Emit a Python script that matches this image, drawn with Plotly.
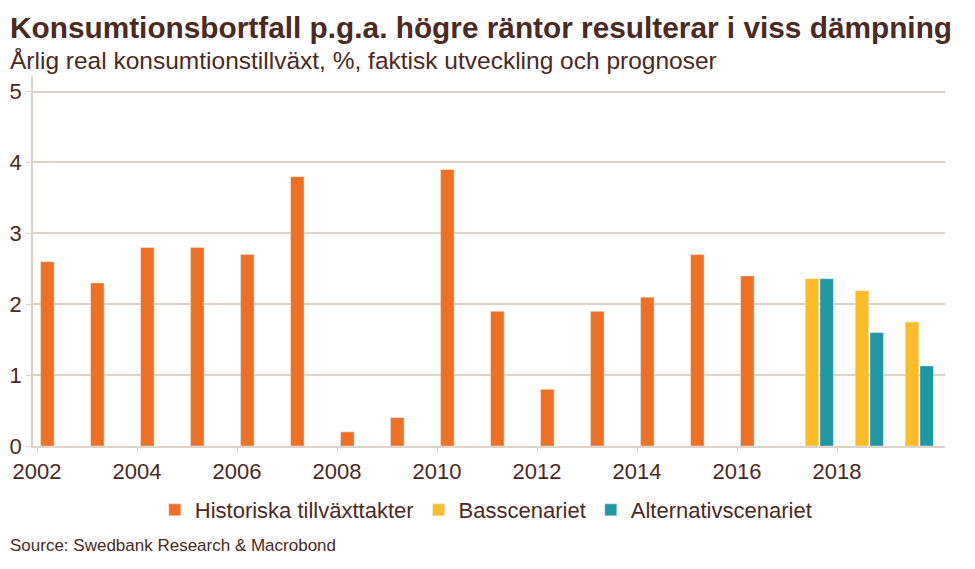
import plotly.graph_objects as go

hist_years = list(range(2002, 2017))
hist_values = [2.6, 2.3, 2.8, 2.8, 2.7, 3.8, 0.2, 0.4, 3.9, 1.9, 0.8, 1.9, 2.1, 2.7, 2.4]
fc_years = [2017, 2018, 2019]
bas_values = [2.36, 2.19, 1.75]
alt_values = [2.36, 1.60, 1.13]
tick_years = [2002, 2004, 2006, 2008, 2010, 2012, 2014, 2016, 2018]
y_ticks = [0, 1, 2, 3, 4, 5]

all_years = hist_years + fc_years
x_pos = [y + 0.5 for y in all_years]
hist_full = hist_values + [None] * len(fc_years)
bas_full = [None] * len(hist_years) + bas_values
alt_full = [None] * len(hist_years) + alt_values

TXT = "#4a2a24"
GRID = "#ddd3c8"
FONT = "Liberation Sans, Arial, sans-serif"

fig = go.Figure()
fig.add_trace(go.Bar(x=x_pos, y=hist_full, name="Historiska tillväxttakter", marker_color="#ee7023"))
fig.add_trace(go.Bar(x=x_pos, y=bas_full, name="Basscenariet", marker_color="#fbbd26"))
fig.add_trace(go.Bar(x=x_pos, y=alt_full, name="Alternativscenariet", marker_color="#1f98a3"))

fig.update_layout(
    width=967, height=561,
    margin=dict(l=25, r=30, t=68, b=123, autoexpand=False),
    paper_bgcolor="white", plot_bgcolor="white",
    barmode="group", bargap=0.12, bargroupgap=0.08,
    font=dict(family=FONT, color=TXT, size=20),
    showlegend=True,
    legend=dict(orientation="h", x=0.497, xanchor="center", y=-0.173, yanchor="middle",
                font=dict(size=22, color=TXT), itemwidth=30, tracegroupgap=0),
    annotations=[
        dict(text="<b>Konsumtionsbortfall p.g.a. högre räntor resulterar i viss dämpning</b>",
             xref="paper", yref="paper", x=-0.027, y=1.132, xanchor="left", yanchor="middle",
             showarrow=False, font=dict(size=29.8, color=TXT, family=FONT)),
        dict(text="Årlig real konsumtionstillväxt, %, faktisk utveckling och prognoser",
             xref="paper", yref="paper", x=-0.027, y=1.043, xanchor="left", yanchor="middle",
             showarrow=False, font=dict(size=24.5, color=TXT, family=FONT)),
        dict(text="Source: Swedbank Research & Macrobond",
             xref="paper", yref="paper", x=-0.027, y=-0.270, xanchor="left", yanchor="middle",
             showarrow=False, font=dict(size=17, color=TXT, family=FONT)),
    ],
)
fig.update_xaxes(range=[2001.92, 2020.16], tickvals=tick_years, ticktext=[str(t) for t in tick_years],
                 ticks="outside", ticklen=5, tickcolor=GRID, showline=True, linecolor=GRID,
                 linewidth=1.5, showgrid=False, zeroline=False, automargin=False,
                 tickfont=dict(size=22, color=TXT))
fig.update_yaxes(range=[0, 5.22], tickvals=y_ticks, ticks="outside", ticklen=5, tickcolor=GRID,
                 showline=True, linecolor=GRID, linewidth=1.5, gridcolor=GRID, gridwidth=1.5,
                 zeroline=False, automargin=False, tickfont=dict(size=22, color=TXT))

fig.write_html("out.html")
